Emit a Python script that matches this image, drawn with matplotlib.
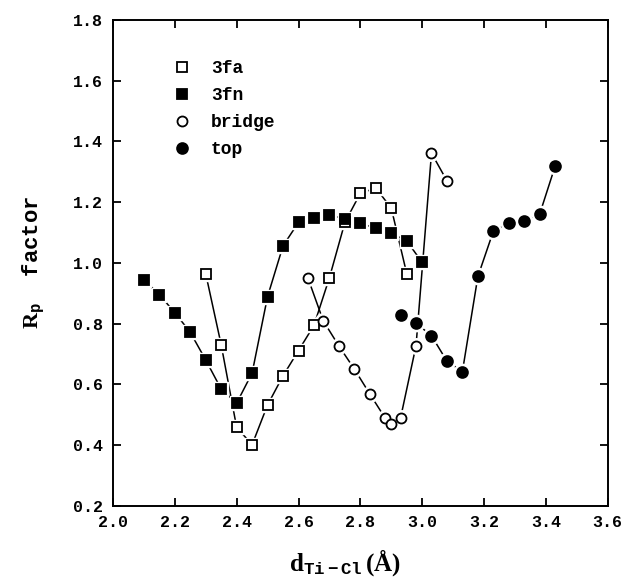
import matplotlib
matplotlib.use("Agg")
import matplotlib.pyplot as plt
from matplotlib.lines import Line2D

# R_p factor versus Ti-Cl distance for four adsorption sites
d_3fa = [2.30, 2.35, 2.40, 2.45, 2.50, 2.55, 2.60, 2.65, 2.70, 2.75, 2.80,
         2.85, 2.90, 2.95]
rp_3fa = [0.964, 0.730, 0.458, 0.401, 0.532, 0.628, 0.711, 0.794, 0.951,
          1.133, 1.229, 1.246, 1.180, 0.964]

d_3fn = [2.10, 2.15, 2.20, 2.25, 2.30, 2.35, 2.40, 2.45, 2.50, 2.55, 2.60,
         2.65, 2.70, 2.75, 2.80, 2.85, 2.90, 2.95, 3.00]
rp_3fn = [0.944, 0.895, 0.836, 0.771, 0.680, 0.584, 0.538, 0.637, 0.889,
          1.056, 1.133, 1.148, 1.157, 1.145, 1.131, 1.113, 1.098, 1.072, 1.001]

d_bridge = [2.63, 2.68, 2.73, 2.78, 2.83, 2.88, 2.90, 2.93, 2.98, 3.03, 3.08]
rp_bridge = [0.951, 0.809, 0.727, 0.651, 0.569, 0.489, 0.470, 0.489, 0.727,
             1.361, 1.270]

d_top = [2.93, 2.98, 3.03, 3.08, 3.13, 3.18, 3.23, 3.28, 3.33, 3.38, 3.43]
rp_top = [0.827, 0.801, 0.760, 0.676, 0.642, 0.955, 1.104, 1.131, 1.138,
          1.161, 1.319]

labels = ["3fa", "3fn", "bridge", "top"]
xticks = [2.0, 2.2, 2.4, 2.6, 2.8, 3.0, 3.2, 3.4, 3.6]
yticks = [0.2, 0.4, 0.6, 0.8, 1.0, 1.2, 1.4, 1.6, 1.8]

plt.rcParams["font.family"] = ["Liberation Mono", "DejaVu Sans Mono"]
plt.rcParams["font.weight"] = "bold"
plt.rcParams["axes.labelweight"] = "bold"
plt.rcParams["mathtext.fontset"] = "custom"
plt.rcParams["mathtext.rm"] = "Liberation Serif:bold"
plt.rcParams["mathtext.it"] = "Liberation Serif:bold"
plt.rcParams["mathtext.bf"] = "Liberation Mono:bold"

fig = plt.figure(figsize=(6.24, 5.84), dpi=100)
ax = fig.add_axes([0.181, 0.134, 0.793, 0.832])

series = [
    (d_3fa, rp_3fa, "s", "white", 6.5),
    (d_3fn, rp_3fn, "s", "black", 6.5),
    (d_bridge, rp_bridge, "o", "white", 7.2),
    (d_top, rp_top, "o", "black", 7.8),
]

for x, y, m, fc, ms in series:
    ax.plot(x, y, "-", color="black", lw=1.1, zorder=1)
for x, y, m, fc, ms in series:
    # white halo so the lines stop short of the symbols
    ax.plot(x, y, ls="none", marker=m, ms=ms + 4, mfc="white", mec="white",
            zorder=2)
for x, y, m, fc, ms in series:
    ax.plot(x, y, ls="none", marker=m, ms=ms, mfc=fc, mec="black", mew=1.3,
            zorder=3)

handles = [Line2D([], [], ls="none", marker=m, ms=ms, mfc=fc, mec="black",
                  mew=1.3) for _, _, m, fc, ms in series]
ax.legend(handles, labels, loc="upper left", bbox_to_anchor=(0.07, 0.95),
          frameon=False, handletextpad=0.6, labelspacing=0.55,
          prop={"family": "Liberation Mono", "weight": "bold", "size": 13})

ax.set_xlim(2.0, 3.6)
ax.set_ylim(0.2, 1.8)
ax.set_xticks(xticks)
ax.set_yticks(yticks)
ax.set_xticklabels([f"{v:.1f}" for v in xticks])
ax.set_yticklabels([f"{v:.1f}" for v in yticks])
ax.tick_params(direction="in", length=6, width=1.3, top=True, right=True,
               labelsize=12, pad=7)
for s in ax.spines.values():
    s.set_linewidth(1.4)

ax.set_ylabel(r"$\mathrm{R}_\mathbf{p}$  factor", fontsize=16)
ax.yaxis.set_label_coords(-0.135, 0.5)
ax.set_xlabel(r"$\mathrm{d}_\mathbf{Ti-Cl}\,\mathrm{(\AA)}$", fontsize=18)
ax.xaxis.set_label_coords(0.47, -0.085)

fig.savefig("out.png", dpi=100)
